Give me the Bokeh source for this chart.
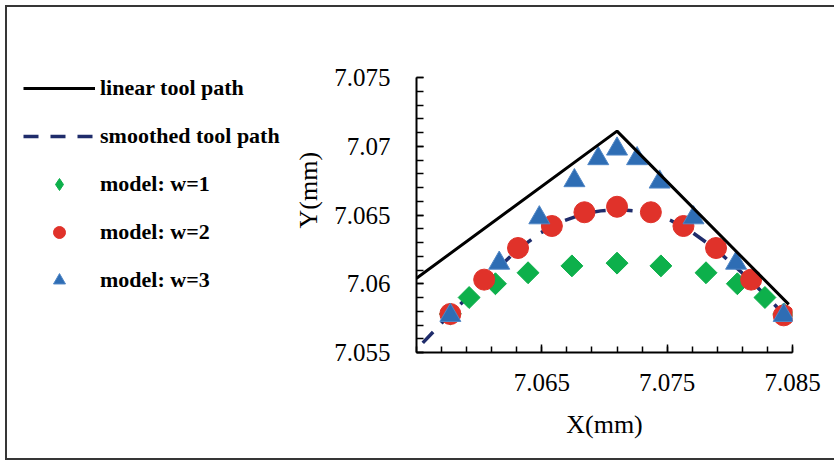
import math

from bokeh.plotting import figure
from bokeh.layouts import row
from bokeh.models import (Range1d, FixedTicker, Legend, LegendItem, Title)
from bokeh.embed import file_html
from bokeh.resources import INLINE

# --- data -----------------------------------------------------------------
# linear (sharp-cornered) tool path
x_linear = [7.0550, 7.0710, 7.0847]
y_linear = [7.0604, 7.0711, 7.0585]

# smoothed tool path
x_smooth = [7.0555, 7.0577, 7.0604, 7.0631, 7.0649, 7.0665, 7.0684, 7.0697,
            7.0710, 7.0724, 7.0737, 7.0753, 7.0769, 7.0789, 7.0817, 7.0843]
y_smooth = [7.0557, 7.0578, 7.0602, 7.0625, 7.0637, 7.0645, 7.0651, 7.0653,
            7.0654, 7.0653, 7.0652, 7.0646, 7.0638, 7.0625, 7.0602, 7.0578]

# model predictions for window widths w = 1, 2, 3
x_w1 = [7.0577, 7.0592, 7.0613, 7.0639, 7.0674, 7.0710, 7.0745, 7.0781,
        7.0806, 7.0828, 7.0843]
y_w1 = [7.0578, 7.0590, 7.0600, 7.0608, 7.0613, 7.0615, 7.0613, 7.0608,
        7.0600, 7.0590, 7.0578]

x_w2 = [7.0577, 7.0604, 7.0631, 7.0658, 7.0684, 7.0710, 7.0737, 7.0763,
        7.0789, 7.0817, 7.0843]
y_w2 = [7.0578, 7.0603, 7.0626, 7.0642, 7.0652, 7.0656, 7.0652, 7.0642,
        7.0626, 7.0603, 7.0577]

x_w3 = [7.0577, 7.0616, 7.0648, 7.0676, 7.0695, 7.0710, 7.0726, 7.0744,
        7.0771, 7.0805, 7.0843]
y_w3 = [7.0577, 7.0615, 7.0648, 7.0675, 7.0691, 7.0698, 7.0691, 7.0674,
        7.0648, 7.0615, 7.0577]

# axis ticks and their labels
x_ticks = [7.065, 7.075, 7.085]
x_tick_labels = ["7.065", "7.075", "7.085"]
x_minor_ticks = [7.055, 7.057, 7.059, 7.061, 7.063, 7.065, 7.067, 7.069,
                 7.071, 7.073, 7.075, 7.077, 7.079, 7.081, 7.083, 7.085]
y_ticks = [7.055, 7.06, 7.065, 7.07, 7.075]
y_tick_labels = ["7.055", "7.06", "7.065", "7.07", "7.075"]
y_minor_ticks = [7.055, 7.056, 7.057, 7.058, 7.059, 7.060, 7.061, 7.062,
                 7.063, 7.064, 7.065, 7.066, 7.067, 7.068, 7.069, 7.070,
                 7.071, 7.072, 7.073, 7.074, 7.075]

SERIF = "Liberation Serif"
GREEN = "#0db04b"
RED = "#e0322a"
BLUE = "#2e6db4"
BLUE_EDGE = "#4f86c6"
NAVY = "#1f2c6b"
FRAME = "#363636"

W, H = 834, 460
KEY_W = 282              # width of the legend panel on the left

# --- chart ----------------------------------------------------------------
p = figure(width=W - KEY_W, height=H, output_backend="svg",
           toolbar_location=None,
           x_range=Range1d(7.055, 7.085), y_range=Range1d(7.055, 7.075),
           min_border_left=416 - KEY_W, min_border_right=42,
           min_border_top=77, min_border_bottom=108)
p.outline_line_color = None
p.background_fill_color = "white"
p.border_fill_alpha = 0
p.xgrid.visible = False
p.ygrid.visible = False

# axes: ticks point inward, Times-like serif labels
p.xaxis.ticker = FixedTicker(ticks=x_ticks, minor_ticks=x_minor_ticks)
p.yaxis.ticker = FixedTicker(ticks=y_ticks, minor_ticks=y_minor_ticks)
p.xaxis.major_label_overrides = dict(zip(x_ticks, x_tick_labels))
p.yaxis.major_label_overrides = dict(zip(y_ticks, y_tick_labels))

for ax in (p.xaxis[0], p.yaxis[0]):
    ax.axis_line_color = "black"
    ax.axis_line_width = 2
    ax.major_tick_line_color = "black"
    ax.minor_tick_line_color = "black"
    ax.major_tick_line_width = 1.5
    ax.minor_tick_line_width = 1.5
    ax.major_tick_out = 0
    ax.minor_tick_out = 0
    ax.major_label_text_font = SERIF
    ax.major_label_text_font_size = "25px"
    ax.major_label_text_color = "black"

p.xaxis.major_tick_in = 8
p.xaxis.minor_tick_in = 6
p.yaxis.major_tick_in = 7
p.yaxis.minor_tick_in = 7
p.xaxis.major_label_standoff = 21
p.yaxis.major_label_standoff = 26

p.xaxis.axis_label = "X(mm)"
p.xaxis.axis_label_text_font = SERIF
p.xaxis.axis_label_text_font_size = "26px"
p.xaxis.axis_label_text_font_style = "normal"
p.xaxis.axis_label_text_color = "black"
p.xaxis.axis_label_standoff = 16

# y axis title, set a little above the axis midpoint
p.add_layout(Title(text="Y(mm)", align="left", offset=124, standoff=17,
                   text_font=SERIF, text_font_size="26px",
                   text_font_style="normal", text_color="black"), "left")

r_smooth = p.line(x_smooth, y_smooth, line_color=NAVY, line_width=3.5,
                  line_dash="15 12")
r_w1 = p.scatter(x_w1, y_w1, marker="square", size=15.5, angle=math.pi / 4,
                 fill_color=GREEN, line_color=GREEN)
r_w2 = p.scatter(x_w2, y_w2, marker="circle", size=21,
                 fill_color=RED, line_color=RED)
r_w3 = p.scatter(x_w3, y_w3, marker="triangle", size=21,
                 fill_color=BLUE, line_color=BLUE_EDGE, line_width=1)
r_linear = p.line(x_linear, y_linear, line_color="black", line_width=3)

# --- legend panel ---------------------------------------------------------
# Its unit square lies far from the data, so the series styled here only
# feed the legend keys and draw nothing themselves.  The row lines its
# frame up with the chart frame (y 77..352 on the page).
key = figure(width=KEY_W, height=H, output_backend="svg",
             toolbar_location=None, x_range=Range1d(0, 1),
             y_range=Range1d(0, 1), min_border=0,
             x_axis_location=None, y_axis_location=None)
key.grid.visible = False
key.outline_line_color = None
key.background_fill_alpha = 0
key.border_fill_alpha = 0

k_linear = key.line(x_linear, y_linear, line_color="black", line_width=3)
k_smooth = key.line(x_smooth, y_smooth, line_color=NAVY, line_width=3.5,
                    line_dash="15 12")
k_w1 = key.scatter(x_w1, y_w1, marker="diamond", fill_color=GREEN,
                   line_color=GREEN)
k_w2 = key.scatter(x_w2, y_w2, marker="circle", fill_color=RED,
                   line_color=RED)
k_w3 = key.scatter(x_w3, y_w3, marker="triangle", fill_color=BLUE,
                   line_color=BLUE_EDGE, line_width=1)

legend = Legend(items=[
    LegendItem(label="linear tool path", renderers=[k_linear]),
    LegendItem(label="smoothed tool path", renderers=[k_smooth]),
    LegendItem(label="model: w=1", renderers=[k_w1]),
    LegendItem(label="model: w=2", renderers=[k_w2]),
    LegendItem(label="model: w=3", renderers=[k_w3]),
], location=(23, 57), ncols=1)
legend.glyph_width = 72
legend.glyph_height = 30
legend.label_height = 30
legend.label_standoff = 5
legend.spacing = 18
legend.padding = 0
legend.margin = 0
legend.border_line_color = None
legend.background_fill_alpha = 0
legend.label_text_font = SERIF
legend.label_text_font_style = "bold"
legend.label_text_font_size = "22px"
legend.label_text_color = "black"
key.add_layout(legend, "center")

# thin page frame (left, top and bottom edges) drawn behind both panels
layout = row(key, p, styles={
    "box-shadow": (f"inset 5px 5px 0 0 #ffffff, inset 7px 7px 0 0 {FRAME}, "
                   f"inset 0 -2px 0 0 {FRAME}"),
    "background-color": "#ffffff",
})

with open("out.html", "w") as f:
    f.write(file_html(layout, INLINE))
